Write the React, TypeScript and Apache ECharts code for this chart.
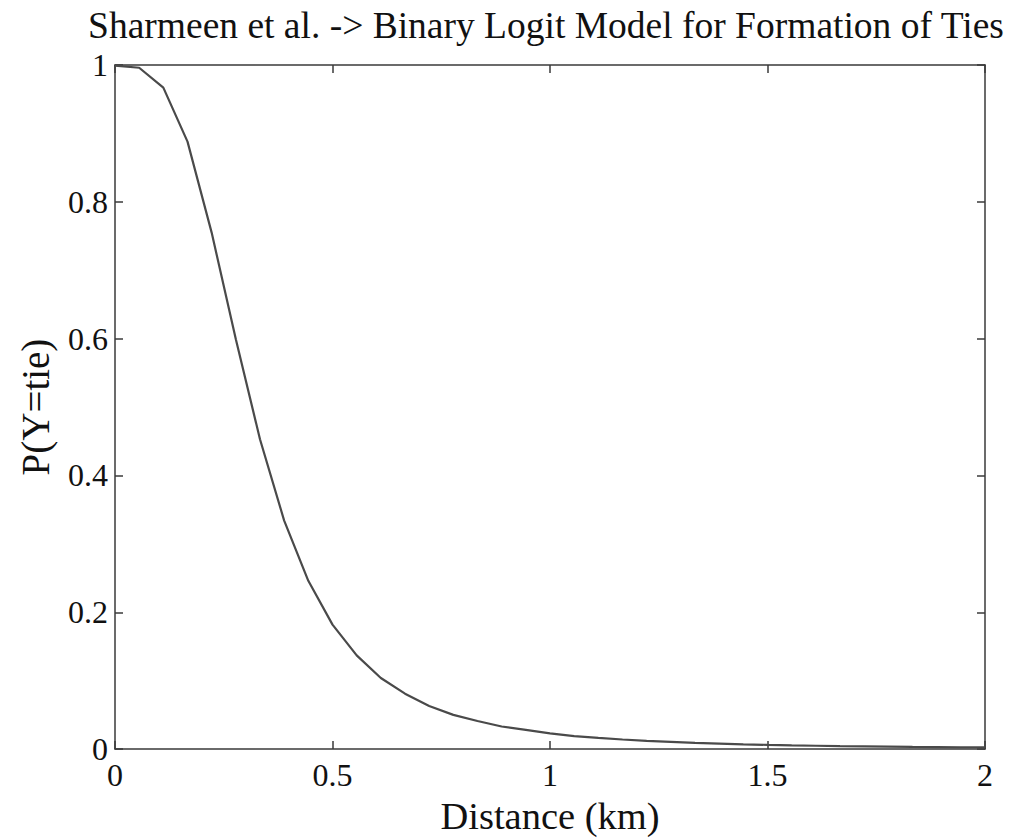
import React, { useEffect, useRef } from "react";
import * as echarts from "echarts";

const titleText = "Sharmeen et al. -> Binary Logit Model for Formation of Ties";
const xName = "Distance (km)";
const yName = "P(Y=tie)";

const distance = [
  0, 0.0556, 0.1111, 0.1667, 0.2222, 0.2778, 0.3333, 0.3889, 0.4444, 0.5,
  0.5556, 0.6111, 0.6667, 0.7222, 0.7778, 0.8333, 0.8889, 0.9444, 1.0,
  1.0556, 1.1111, 1.1667, 1.2222, 1.2778, 1.3333, 1.3889, 1.4444, 1.5,
  1.5556, 1.6111, 1.6667, 1.7222, 1.7778, 1.8333, 1.8889, 1.9444, 2.0,
];
const probTie = [
  0.999, 0.996, 0.967, 0.888, 0.755, 0.599, 0.453, 0.334, 0.246, 0.182,
  0.137, 0.104, 0.081, 0.063, 0.05, 0.041, 0.033, 0.028, 0.023,
  0.019, 0.0165, 0.014, 0.012, 0.0105, 0.009, 0.008, 0.007, 0.0062,
  0.0055, 0.0049, 0.0044, 0.004, 0.0036, 0.0032, 0.0029, 0.0026, 0.0024,
];

const FONT = "'Liberation Serif', 'Times New Roman', serif";
const AXIS_COLOR = "#3a3a3a";

export default function App() {
  const ref = useRef<HTMLDivElement>(null);
  useEffect(() => {
    document.body.style.margin = "0";
    const chart = echarts.init(ref.current!, null, { renderer: "svg" });
    const axisCommon = {
      axisLine: { show: true, onZero: false, lineStyle: { color: AXIS_COLOR, width: 1.5 } },
      axisTick: { show: true, inside: true, length: 8, lineStyle: { color: AXIS_COLOR, width: 1.5 } },
      splitLine: { show: false },
    };
    chart.setOption({
      animation: false,
      backgroundColor: "#ffffff",
      title: {
        text: titleText,
        left: 541,
        top: 1,
        textAlign: "center",
        textStyle: { fontFamily: FONT, fontSize: 37.5, fontWeight: "normal", color: "#111" },
      },
      grid: { left: 115, right: 41, top: 65, bottom: 90 },
      xAxis: [
        {
          type: "value",
          min: 0,
          max: 2,
          interval: 0.5,
          position: "bottom",
          name: xName,
          nameLocation: "middle",
          nameGap: 42,
          nameTextStyle: { fontFamily: FONT, fontSize: 38.5, color: "#111" },
          axisLabel: { fontFamily: FONT, fontSize: 32, color: "#111", margin: 10 },
          ...axisCommon,
        },
        {
          type: "value",
          min: 0,
          max: 2,
          interval: 0.5,
          position: "top",
          axisLabel: { show: false },
          ...axisCommon,
        },
      ],
      yAxis: [
        {
          type: "value",
          min: 0,
          max: 1,
          interval: 0.2,
          position: "left",
          name: yName,
          nameLocation: "middle",
          nameGap: 60,
          nameTextStyle: { fontFamily: FONT, fontSize: 39, color: "#111" },
          axisLabel: { fontFamily: FONT, fontSize: 32, color: "#111", margin: 7 },
          ...axisCommon,
        },
        {
          type: "value",
          min: 0,
          max: 1,
          interval: 0.2,
          position: "right",
          axisLabel: { show: false },
          ...axisCommon,
        },
      ],
      series: [
        {
          type: "line",
          xAxisIndex: 0,
          yAxisIndex: 0,
          data: distance.map((d, i) => [d, probTie[i]]),
          showSymbol: false,
          symbol: "none",
          lineStyle: { color: "#4a4a4a", width: 2.2 },
        },
      ],
    });
    return () => chart.dispose();
  }, []);
  return <div ref={ref} style={{ width: 1026, height: 840 }} />;
}
